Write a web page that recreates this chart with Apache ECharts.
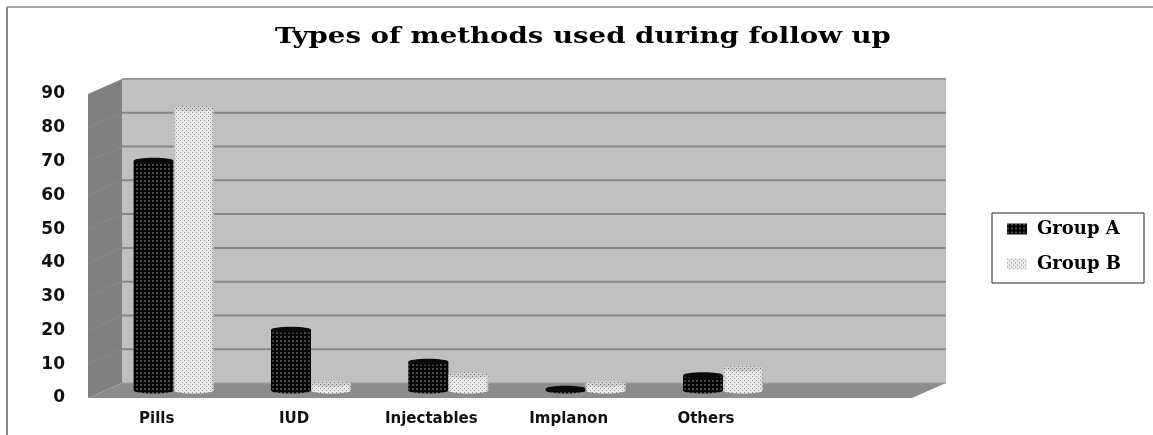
<!DOCTYPE html>
<html>
<head>
<meta charset="utf-8">
<style>html,body{margin:0;padding:0;background:#fff}#chart{width:1153px;height:435px}</style>
<script src="https://cdn.jsdelivr.net/npm/echarts@6/dist/echarts.min.js"></script>
</head>
<body>
<div id="chart"></div>
<script>
// Methods reported at follow up, per group (blank last slot keeps the floor's free space)
const categories = ['Pills', 'IUD', 'Injectables', 'Implanon', 'Others', ''];
const groupA = [68, 18, 8.5, 0.5, 4.5];
const groupB = [83.5, 2, 4.5, 2, 6.5];
const yTicks = [10, 20, 30, 40, 50, 60, 70, 80, 90];

// 3D look: the back wall sits up and to the right of the front plane, columns stand half way
const DEPTH_X = 34, DEPTH_Y = 15, MID_X = 17, MID_Y = 7.5;
const COL_W = 40, COL_RY = 3;

function dotPattern(bg, dot, step, size) {
  const c = document.createElement('canvas');
  c.width = c.height = step;
  const g = c.getContext('2d');
  g.fillStyle = bg;
  g.fillRect(0, 0, step, step);
  g.fillStyle = dot;
  g.fillRect(0, 0, size, size);
  return { image: c, repeat: 'repeat' };
}
function checkerPattern(bg, dot) {
  const c = document.createElement('canvas');
  c.width = c.height = 4;
  const g = c.getContext('2d');
  g.fillStyle = bg;
  g.fillRect(0, 0, 4, 4);
  g.fillStyle = dot;
  g.fillRect(0, 0, 1, 1);
  g.fillRect(2, 2, 1, 1);
  return { image: c, repeat: 'repeat' };
}
const fillA = dotPattern('#050505', '#484848', 4, 2);
const fillB = checkerPattern('#ececec', '#8e8e8e');

function renderWalls(params, api) {
  const cs = params.coordSys;
  const L = cs.x, R = cs.x + cs.width;
  const y0 = api.coord([0, 0])[1], yTop = api.coord([0, 90])[1];
  const poly = (points, fill) => ({ type: 'polygon', shape: { points }, style: { fill }, silent: true });
  const line = (x1, y1, x2, y2, stroke, lineWidth) => ({
    type: 'line', shape: { x1, y1, x2, y2 }, style: { stroke, lineWidth }, silent: true
  });
  const children = [
    poly([[L + DEPTH_X, yTop - DEPTH_Y], [R + DEPTH_X, yTop - DEPTH_Y], [R + DEPTH_X, y0 - DEPTH_Y], [L + DEPTH_X, y0 - DEPTH_Y]], '#c0c0c0'),
    poly([[L, yTop], [L + DEPTH_X, yTop - DEPTH_Y], [L + DEPTH_X, y0 - DEPTH_Y], [L, y0]], '#808080'),
    poly([[L, y0], [L + DEPTH_X, y0 - DEPTH_Y], [R + DEPTH_X, y0 - DEPTH_Y], [R, y0]], '#8c8c8c'),
    line(L + DEPTH_X, yTop - DEPTH_Y, R + DEPTH_X, yTop - DEPTH_Y, '#969696', 2)
  ];
  yTicks.slice(0, -1).forEach(v => {
    const y = api.coord([0, v])[1];
    children.push(line(L, y, L + DEPTH_X, y - DEPTH_Y, '#8a8a8a', 1));
    children.push(line(L + DEPTH_X, y - DEPTH_Y, R + DEPTH_X, y - DEPTH_Y, '#868686', 2));
  });
  children.push(line(L + DEPTH_X, y0 - DEPTH_Y, R + DEPTH_X, y0 - DEPTH_Y, '#9a9a9a', 1));
  return { type: 'group', children };
}

function columnRenderer(side, fill, topFill, shade) {
  return function (params, api) {
    const top = api.coord([api.value(0), api.value(1)]);
    const base = api.coord([api.value(0), 0]);
    const cx = top[0] + MID_X + side * COL_W / 2;
    const yT = top[1] - MID_Y, yB = base[1] - MID_Y;
    const x = cx - COL_W / 2;
    const bodyShape = { x, y: yT, width: COL_W, height: yB - yT };
    return {
      type: 'group',
      children: [
        { type: 'ellipse', shape: { cx, cy: yB, rx: COL_W / 2, ry: COL_RY }, style: { fill } },
        { type: 'rect', shape: bodyShape, style: { fill } },
        { type: 'rect', shape: bodyShape, style: { fill: shade } },
        { type: 'ellipse', shape: { cx, cy: yT, rx: COL_W / 2, ry: COL_RY }, style: { fill: topFill } }
      ]
    };
  };
}

function sideShade(edge, mid) {
  return {
    type: 'linear', x: 0, y: 0, x2: 1, y2: 0,
    colorStops: [
      { offset: 0, color: edge }, { offset: 0.12, color: mid },
      { offset: 0.88, color: mid }, { offset: 1, color: edge }
    ]
  };
}

const chart = echarts.init(document.getElementById('chart'), null, { renderer: 'canvas' });
chart.setOption({
  animation: false,
  backgroundColor: '#ffffff',
  grid: { left: 88, top: 94, width: 824, height: 304, containLabel: false },
  xAxis: {
    type: 'category',
    data: categories,
    axisLine: { show: false },
    axisTick: { show: false },
    splitLine: { show: false },
    axisLabel: {
      margin: 14, interval: 0, color: '#111',
      fontFamily: 'DejaVu Sans', fontWeight: 'bold', fontSize: 15
    }
  },
  yAxis: {
    type: 'value', min: 0, max: 90, interval: 10,
    axisLine: { show: false },
    axisTick: { show: false },
    splitLine: { show: false },
    axisLabel: {
      margin: 23, color: '#111',
      fontFamily: 'DejaVu Sans', fontSize: 17, fontWeight: 'bold'
    }
  },
  legend: {
    orient: 'vertical', left: 992, top: 213,
    padding: [7, 23, 10, 15],
    itemWidth: 20, itemHeight: 11, itemGap: 17,
    icon: 'rect',
    backgroundColor: '#fff', borderColor: '#222', borderWidth: 1,
    textStyle: { fontFamily: 'DejaVu Serif', fontWeight: 'bold', fontSize: 18, color: '#000', padding: [0, 0, 0, 5] },
    data: ['Group A', 'Group B']
  },
  graphic: [
    { type: 'line', silent: true, shape: { x1: 7, y1: 7, x2: 1153, y2: 7 }, style: { stroke: '#8a8a8a', lineWidth: 1.5 } },
    { type: 'line', silent: true, shape: { x1: 7, y1: 7, x2: 7, y2: 435 }, style: { stroke: '#8a8a8a', lineWidth: 2 } },
    {
      type: 'text', x: 275, y: 26, scaleX: 1.255,
      style: { text: 'Types of methods used during follow up', fontFamily: 'DejaVu Serif', fontWeight: 'bold', fontSize: 22, fill: '#000' }
    }
  ],
  series: [
    {
      type: 'custom', name: 'walls', silent: true, z: 1,
      renderItem: renderWalls, data: [[0, 0]], encode: { x: 0, y: 1 }, tooltip: { show: false }
    },
    {
      type: 'custom', name: 'Group A', z: 3,
      itemStyle: { color: fillA },
      renderItem: columnRenderer(-1, fillA, '#0a0a0a', sideShade('rgba(0,0,0,0.35)', 'rgba(0,0,0,0)')),
      data: groupA.map((v, i) => [i, v]), encode: { x: 0, y: 1 }
    },
    {
      type: 'custom', name: 'Group B', z: 4,
      itemStyle: { color: fillB },
      renderItem: columnRenderer(1, fillB, checkerPattern('#d0d0d0', '#6e6e6e'), sideShade('rgba(120,120,120,0.4)', 'rgba(255,255,255,0)')),
      data: groupB.map((v, i) => [i, v]), encode: { x: 0, y: 1 }
    }
  ]
});
</script>
</body>
</html>
